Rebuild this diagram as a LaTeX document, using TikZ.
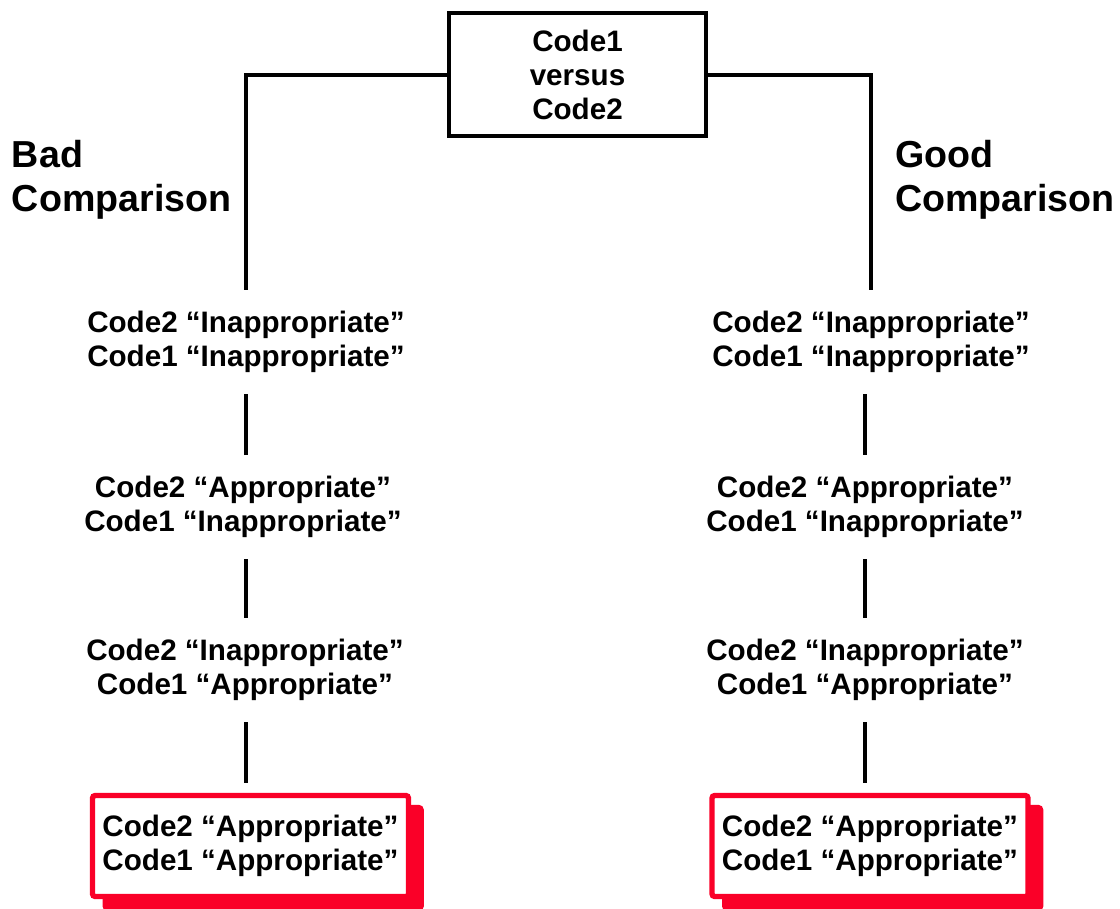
\documentclass[tikz,border=0pt]{standalone}
\usepackage{fontspec}
\setmainfont{Liberation Sans}
\usetikzlibrary{shadows}
\definecolor{codered}{RGB}{250,0,40}
\begin{document}
\begin{tikzpicture}[x=0.75pt, y=-0.75pt, line width=3pt,
  every node/.style={font=\bfseries\fontsize{22.2}{25.5}\selectfont, align=center},
  rowbox/.style={minimum height=75pt, inner sep=0pt},
  versusbox/.style={draw, minimum width=192.75pt, minimum height=92.25pt, inner sep=0pt},
  headline/.style={font=\bfseries\fontsize{28.2}{33}\selectfont, align=left, anchor=west, inner sep=0pt},
  bestbox/.style={draw=codered, fill=white, line width=4pt, rounded corners=2pt,
    minimum width=237pt, minimum height=75.75pt, inner sep=0pt,
    drop shadow={shadow xshift=9.5pt, shadow yshift=-9pt, fill=codered, draw=codered,
      line width=4pt, opacity=1, rounded corners=0pt}}]
\useasboundingbox (0,0) rectangle (1120,909);
\node[versusbox] (top) at (577.5,75) {Code1\\versus\\ Code2};
\node[headline] (bad) at (10,180) {Bad\\Comparison};
\node[headline] (good) at (893,180) {Good\\Comparison};
% bad comparison column
\node[rowbox] (l1) at (246,342) {Code2 ``Inappropriate''\\Code1 ``Inappropriate''};
\node[rowbox] (l2) at (243,507) {Code2 ``Appropriate''\\Code1 ``Inappropriate''};
\node[rowbox] (l3) at (245,670) {Code2 ``Inappropriate''\\Code1 ``Appropriate''};
\node[bestbox] (lbest) at (250.5,846) {Code2 ``Appropriate''\\Code1 ``Appropriate''};
% good comparison column
\node[rowbox] (r1) at (871,342) {Code2 ``Inappropriate''\\Code1 ``Inappropriate''};
\node[rowbox] (r2) at (865,507) {Code2 ``Appropriate''\\Code1 ``Inappropriate''};
\node[rowbox] (r3) at (865,670) {Code2 ``Inappropriate''\\Code1 ``Appropriate''};
\node[bestbox] (rbest) at (870,846) {Code2 ``Appropriate''\\Code1 ``Appropriate''};
\draw (top.west) -| (l1.north);
\draw (l2.north -| l1.south) -- (l1.south);
\draw (l2.south -| l1.south) -- (l3.north -| l1.south);
\draw[shorten >=7.5pt] (l3.south -| l1.south) -- (lbest.north -| l1.south);
\draw (top.east) -| (r1.north);
\draw (r1.south -| r2.north) -- (r2.north);
\draw (r2.south) -- (r3.north);
\draw[shorten >=7.5pt] (r3.south) -- (r3.south |- rbest.north);
\end{tikzpicture}
\end{document}
